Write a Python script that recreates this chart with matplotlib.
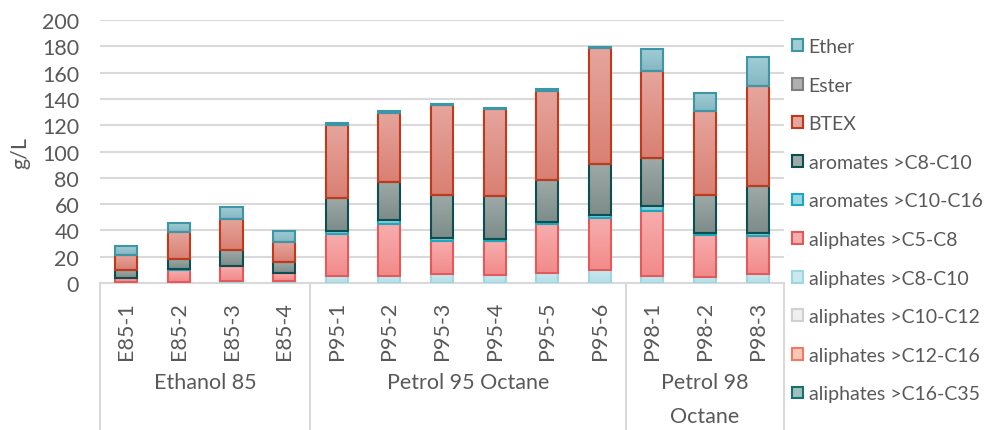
import numpy as np
import matplotlib
matplotlib.use("Agg")
import matplotlib.pyplot as plt
import matplotlib.transforms as mtransforms
from matplotlib.colors import to_rgb
from matplotlib.patches import Patch

plt.rcParams['font.family'] = ['Lato', 'DejaVu Sans']

# data (g/L), stacked bottom -> top
samples = ['E85-1', 'E85-2', 'E85-3', 'E85-4',
           'P95-1', 'P95-2', 'P95-3', 'P95-4', 'P95-5', 'P95-6',
           'P98-1', 'P98-2', 'P98-3']
groups = ['Ethanol 85', 'Petrol 95 Octane', 'Petrol 98\nOctane']
group_sizes = [4, 6, 3]

aliph_c16_c35 = [0, 0, 0, 0, 0, 0, 0, 0, 0, 0, 0, 0, 0]
aliph_c12_c16 = [0, 0, 0, 0, 0, 0, 0, 0, 0, 0, 0, 0, 0]
aliph_c10_c12 = [0, 0, 0, 0, 0, 0, 0, 0, 0, 0, 0, 0, 0]
aliph_c8_c10 = [0.5, 1, 1.5, 1.5, 5, 5, 6.6, 6, 7.6, 9.6, 5.3, 4.8, 6.6]
aliph_c5_c8 = [3.5, 9, 11.5, 6.5, 32, 40, 25.6, 25.7, 37.3, 40.1, 49.5, 32, 29.2]
arom_c10_c16 = [0, 0.5, 0, 0, 2.5, 2.8, 1.8, 1.8, 1.7, 2, 3.8, 1.5, 2]
arom_c8_c10 = [6, 8, 12, 8, 25.5, 29, 33.2, 32.7, 31.7, 38.8, 36.8, 29, 35.8]
btex = [11.5, 20, 24, 15, 55.5, 52.7, 67.9, 66.1, 68, 88.2, 66, 63.7, 76.4]
ester = [0, 0, 0, 0, 0, 0, 0, 0, 0, 0, 0, 0, 0]
ether = [7, 7.5, 9, 8.5, 1.3, 1, 1.3, 1, 1.2, 1, 16.5, 13.4, 22]

# name, values, fill top, fill bottom, edge
series = [
    ('aliphates >C16-C35', aliph_c16_c35, '#9cc2bf', '#6ea3a0', '#1b6f70'),
    ('aliphates >C12-C16', aliph_c12_c16, '#f9c7b9', '#f4a993', '#ee7b5d'),
    ('aliphates >C10-C12', aliph_c10_c12, '#efefef', '#e0e0e0', '#d0d0d0'),
    ('aliphates >C8-C10', aliph_c8_c10, '#c9e9ef', '#b3dfe7', '#9ed7e0'),
    ('aliphates >C5-C8', aliph_c5_c8, '#f7aeae', '#f28a8a', '#e45a5a'),
    ('aromates >C10-C16', arom_c10_c16, '#97d7e3', '#74c6d5', '#1ca9c0'),
    ('aromates >C8-C10', arom_c8_c10, '#9eaaa8', '#7d8c89', '#0d4f4f'),
    ('BTEX', btex, '#e6a59d', '#d98073', '#c0391b'),
    ('Ester', ester, '#b0b0b0', '#909090', '#7f7f7f'),
    ('Ether', ether, '#a0ccd5', '#84b8c3', '#3c96a6'),
]

txt = '#595959'
fig = plt.figure(figsize=(9.93, 4.31), dpi=100)
ax = fig.add_axes([0.1007, 0.341, 0.6888, 0.61])

x = np.arange(len(samples))
width = 0.42
bottom = np.zeros(len(samples))
handles = []
ramp = np.linspace(0, 1, 64)[:, None]
for name, vals, top_c, bot_c, ec in series:
    vals = np.array(vals, dtype=float)
    lw = [1.5 if v > 0 else 0 for v in vals]
    # excel-like vertical gradient, clipped to each bar
    grad = (1 - ramp)[:, :, None] * np.array(to_rgb(top_c)) + ramp[:, :, None] * np.array(to_rgb(bot_c))
    for xi, v, b in zip(x, vals, bottom):
        if v <= 0:
            continue
        ax.imshow(grad, extent=(xi - width / 2, xi + width / 2, b, b + v),
                  origin='upper', aspect='auto', zorder=3, interpolation='bilinear')
    ax.bar(x, vals, width, bottom=bottom, fill=False, edgecolor=ec, linewidth=lw, zorder=4)
    bottom += vals
    handles.append(Patch(facecolor=top_c, edgecolor=ec, linewidth=1.5, label=name))

ax.set_xlim(-0.5, len(samples) - 0.5)
ax.set_ylim(0, 200)
ax.set_aspect('auto')
ax.set_yticks(np.arange(0, 201, 20))
ax.grid(axis='y', color='#d9d9d9', linewidth=1.5, zorder=0)
ax.set_axisbelow(True)
for s in ax.spines.values():
    s.set_visible(False)
ax.tick_params(axis='both', length=0, colors=txt, labelsize=15.5)
ax.tick_params(axis='y', pad=15)
ax.tick_params(axis='x', pad=13)
ax.set_xticks(x)
ax.set_xticklabels(samples, rotation=90)
ax.set_ylabel('g/L', color=txt, fontsize=15.5, labelpad=8)

# multi-level category axis
trans = mtransforms.blended_transform_factory(ax.transData, ax.transAxes)
ax.plot([-0.5, len(samples) - 0.5], [0, 0], color='#d9d9d9', linewidth=1.5,
        transform=trans, clip_on=False, zorder=2)
edges = np.concatenate([[0], np.cumsum(group_sizes)]) - 0.5
for e in edges:
    ax.plot([e, e], [0, -0.6], color='#d9d9d9', linewidth=1.5,
            transform=trans, clip_on=False)
for i, g in enumerate(groups):
    ax.text((edges[i] + edges[i + 1]) / 2, -0.338, g, transform=trans,
            ha='center', va='top', fontsize=15.5, color=txt, linespacing=1.9)

fig.legend(handles=handles[::-1], loc='upper left', bbox_to_anchor=(0.780, 0.950),
           frameon=False, fontsize=14, labelcolor=txt, handlelength=0.55,
           handleheight=0.55, handletextpad=0.3, labelspacing=1.11)

fig.savefig('out.png', dpi=100)
